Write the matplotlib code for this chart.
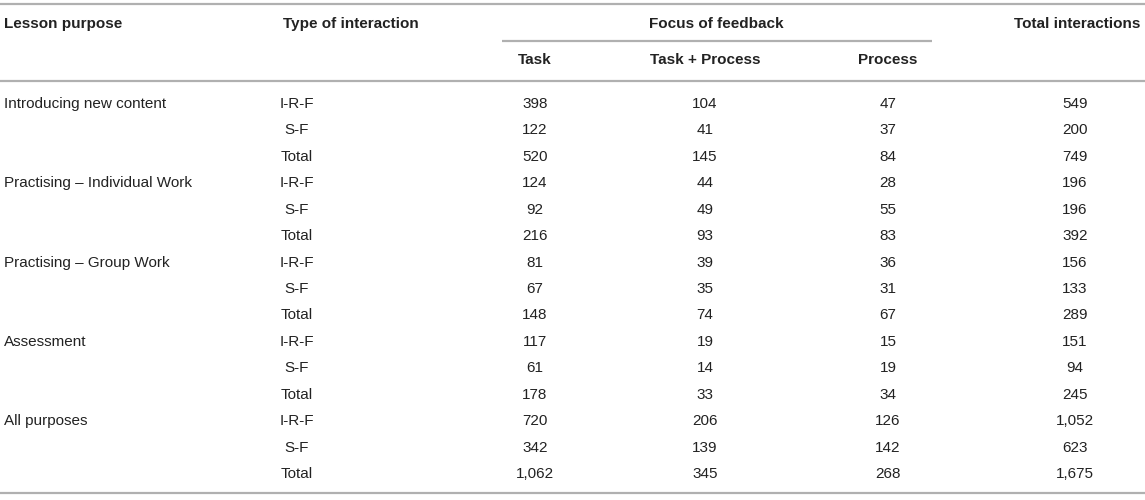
import matplotlib.pyplot as plt

# table contents
purposes = ['Introducing new content', 'Practising \u2013 Individual Work',
            'Practising \u2013 Group Work', 'Assessment', 'All purposes']
types = ['I-R-F', 'S-F', 'Total']
task = [398, 122, 520, 124, 92, 216, 81, 67, 148, 117, 61, 178, 720, 342, 1062]
task_process = [104, 41, 145, 44, 49, 93, 39, 35, 74, 19, 14, 33, 206, 139, 345]
process = [47, 37, 84, 28, 55, 83, 36, 31, 67, 15, 19, 34, 126, 142, 268]
total = [549, 200, 749, 196, 196, 392, 156, 133, 289, 151, 94, 245, 1052, 623, 1675]

W, H = 1145, 500
fig = plt.figure(figsize=(W / 100, H / 100), dpi=100)
ax = fig.add_axes([0, 0, 1, 1])
ax.set_xlim(0, W)
ax.set_ylim(H, 0)
ax.axis('off')

txt = '#222222'
line_c = '#b0b0b0'
fs = 11
body = ['Liberation Sans', 'DejaVu Sans']

# rules
for y in [4, 81, 493]:
    ax.plot([0, W], [y, y], color=line_c, lw=1.6, solid_capstyle='butt')
ax.plot([502, 932], [41, 41], color=line_c, lw=1.6, solid_capstyle='butt')

# header
ax.text(4, 24, 'Lesson purpose', ha='left', va='center', fontsize=fs,
        fontweight='bold', color=txt, family=body)
ax.text(283, 24, 'Type of interaction', ha='left', va='center', fontsize=fs,
        fontweight='bold', color=txt, family=body)
ax.text(716, 24, 'Focus of feedback', ha='center', va='center', fontsize=fs,
        fontweight='bold', color=txt, family=body)
ax.text(1140, 24, 'Total interactions', ha='right', va='center', fontsize=fs,
        fontweight='bold', color=txt, family=body)

col_x = [535, 705, 888, 1075]
for x, lab in zip(col_x[:3], ['Task', 'Task + Process', 'Process']):
    ax.text(x, 60, lab, ha='center', va='center', fontsize=fs,
            fontweight='bold', color=txt, family=body)

# body rows
y0, dy = 104, 26.43
for i in range(len(task)):
    y = y0 + i * dy
    if i % 3 == 0:
        ax.text(4, y, purposes[i // 3], ha='left', va='center', fontsize=fs,
                color=txt, family=body)
    ax.text(297, y, types[i % 3], ha='center', va='center', fontsize=fs,
            color=txt, family=body)
    for x, vals in zip(col_x, [task, task_process, process, total]):
        ax.text(x, y, f'{vals[i]:,}', ha='center', va='center', fontsize=fs,
                color=txt, family=body)

fig.savefig('out.png', dpi=100, facecolor='white')
